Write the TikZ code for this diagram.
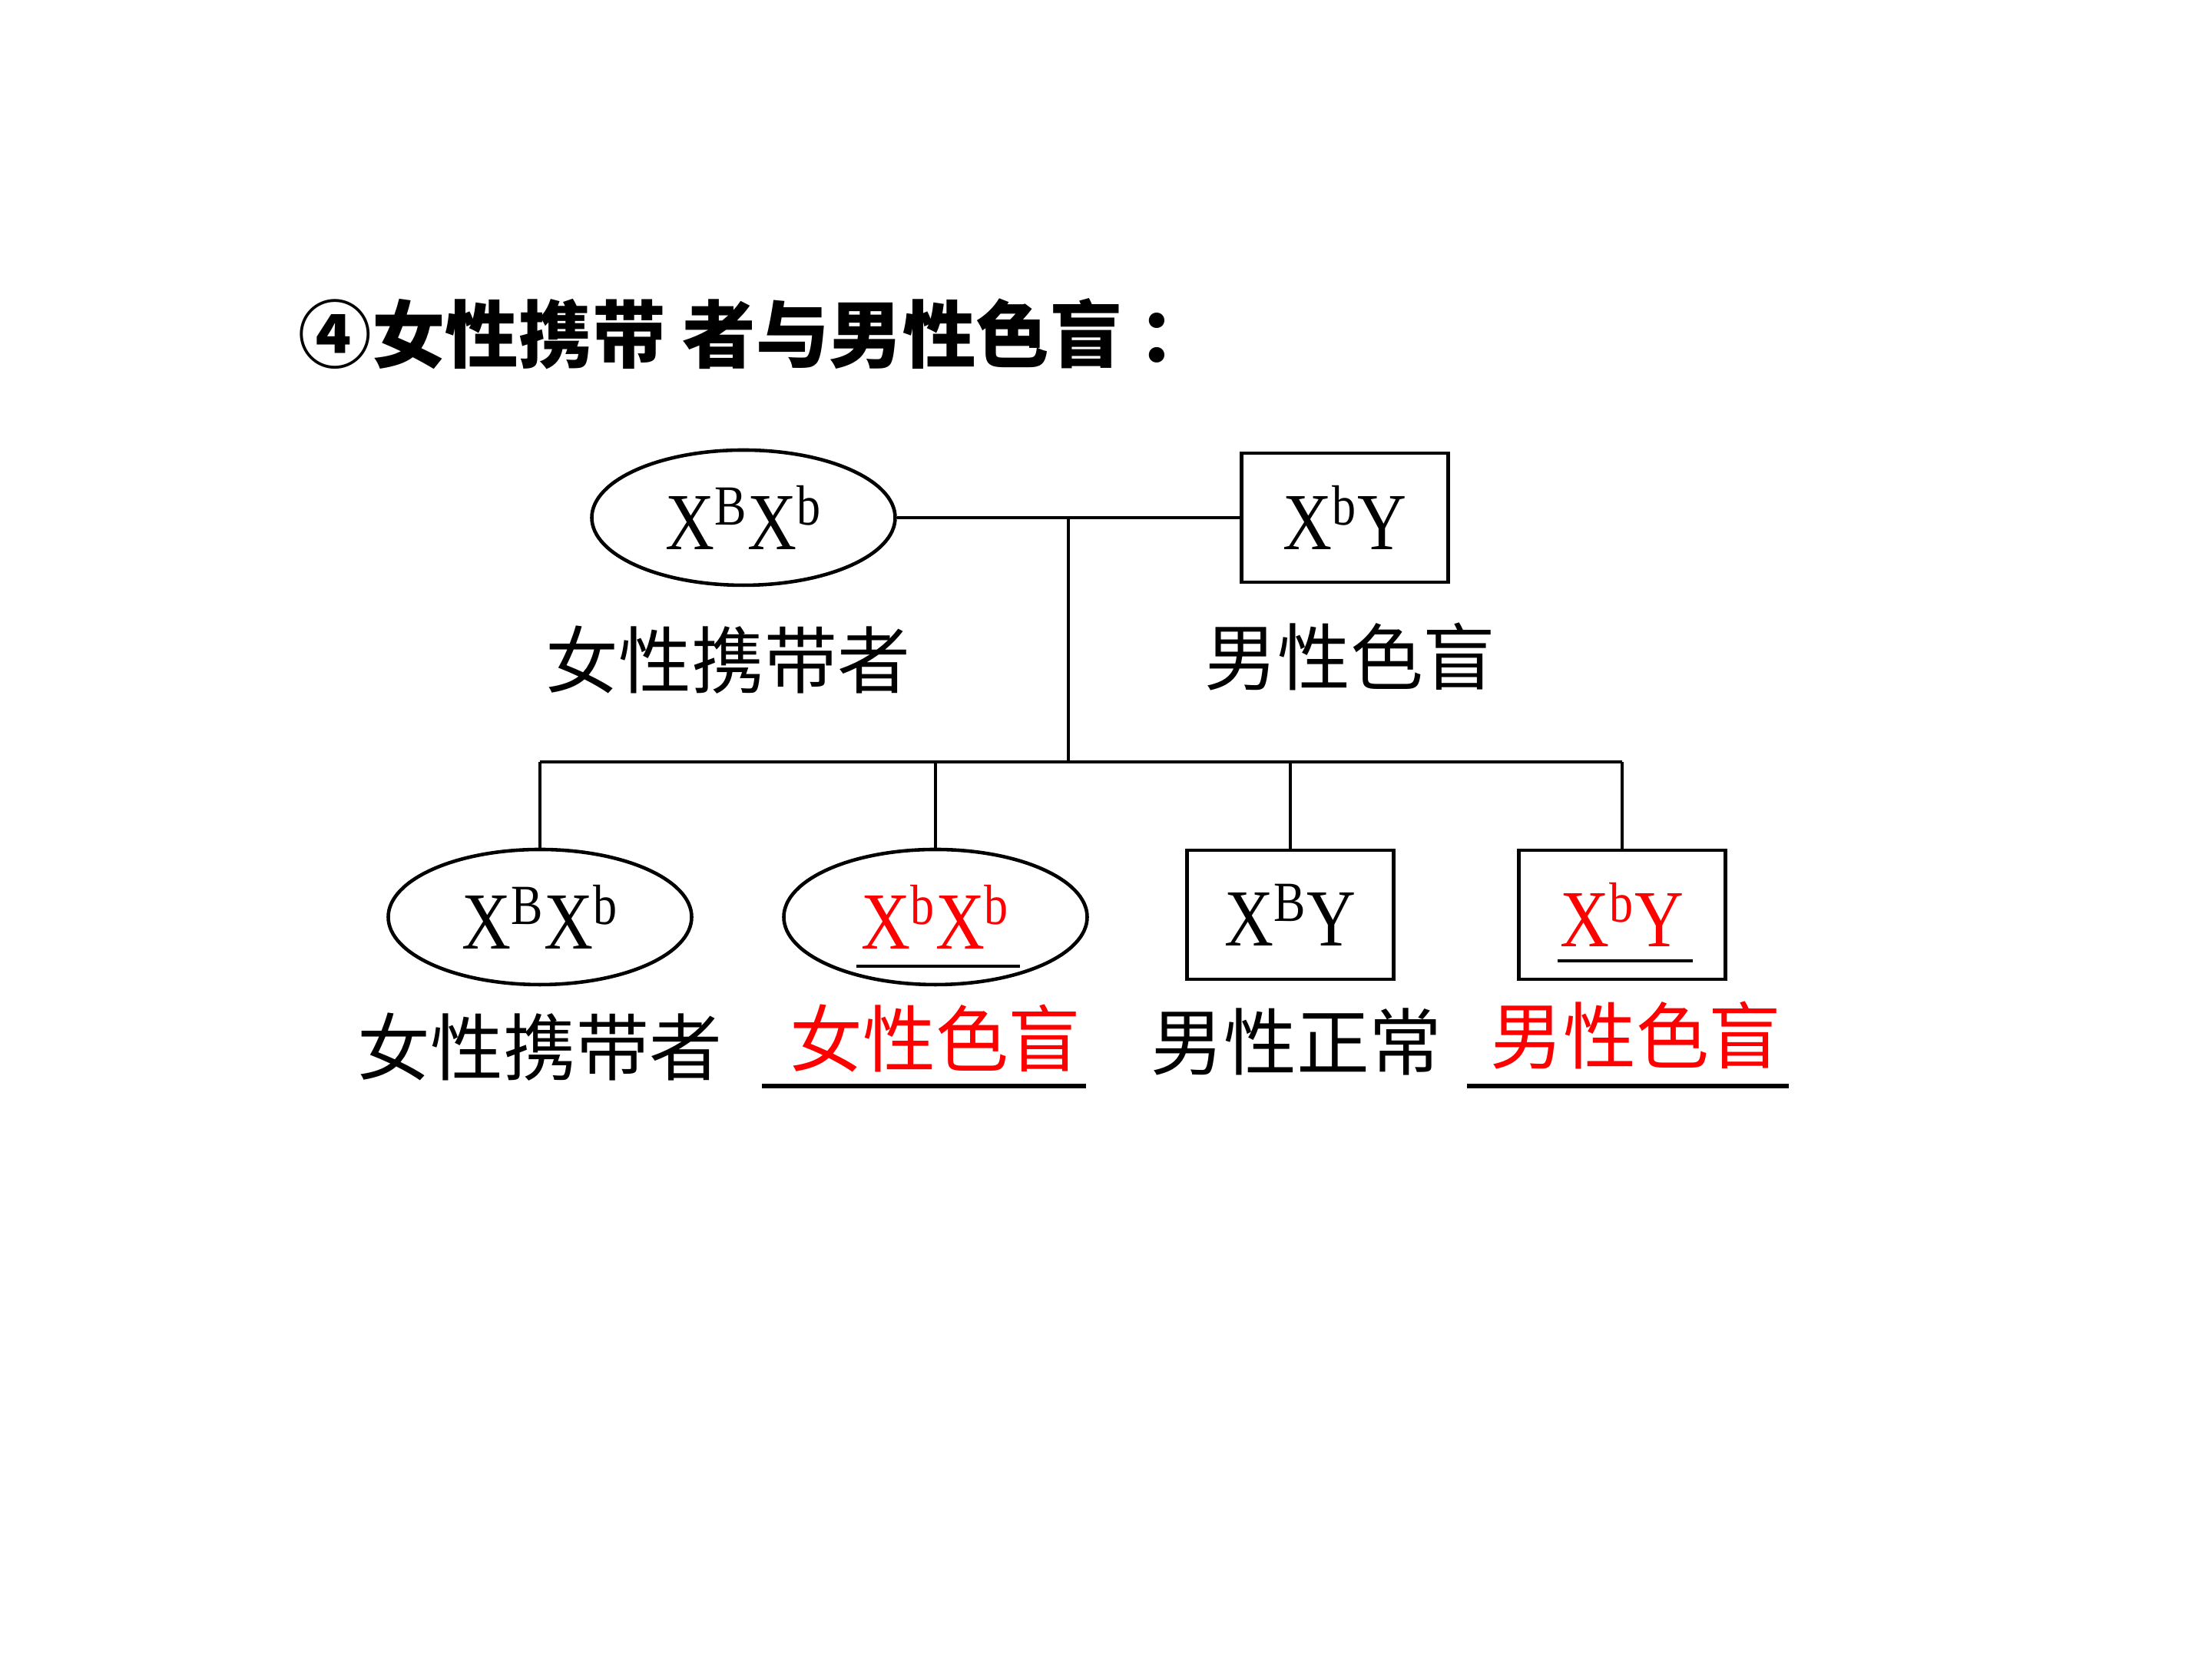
\documentclass[tikz,border=0pt]{standalone}
\usepackage{fontspec}
\setmainfont{Liberation Serif}
\newfontfamily\cjk{Noto Sans CJK SC}
\newfontfamily\geno[FakeStretch=0.84]{Liberation Serif}
\usetikzlibrary{positioning,shapes.geometric,calc}

\begin{document}
\begin{tikzpicture}[
    female/.style={ellipse, draw, line width=1.3pt, minimum width=3.95cm, minimum height=1.76cm, inner sep=0pt, font=\geno\fontsize{30}{30}\selectfont},
    male/.style={rectangle, draw, line width=1.3pt, minimum width=2.69cm, minimum height=1.68cm, inner sep=0pt, font=\geno\fontsize{30}{30}\selectfont},
    lab/.style={inner sep=0pt, font=\cjk\fontsize{27}{27}\selectfont},
    line/.style={line width=1.1pt}
]
    \useasboundingbox (0,0) rectangle (28.8,21.6);

    \node[anchor=west, inner sep=0pt, font=\cjk\bfseries\fontsize{27.2}{27.2}\selectfont] (title) at (3.88,17.25) {④女性携带 者与男性色盲\hspace{0.2cm}：};

    % parents
    \node[female] (mom) at (9.68,14.86) {X\textsuperscript{B}X\textsuperscript{b}};
    \node[male] (dad) at (17.51,14.86) {X\textsuperscript{b}Y};

    \node[lab, below=0.5cm of mom, xshift=-0.2cm] (mom-l) {女性携带者};
    \node[lab, below=0.5cm of dad, xshift=0.07cm] (dad-l) {男性色盲};

    % children
    \node[female] (c1) at (7.03,9.66) {X\textsuperscript{B}X\textsuperscript{b}};
    \node[female, text=red] (c2) at (12.18,9.66) {X\textsuperscript{b}X\textsuperscript{b}};
    \node[male] (c3) at (16.80,9.69) {X\textsuperscript{B}Y};
    \node[male, text=red] (c4) at (21.12,9.69) {X\textsuperscript{b}Y};

    \node[lab, below=0.34cm of c1] (c1-l) {女性携带者};
    \node[lab, below=0.23cm of c2, text=red] (c2-l) {女性色盲};
    \node[lab, below=0.35cm of c3, xshift=0.08cm] (c3-l) {男性正常};
    \node[lab, below=0.26cm of c4, xshift=0.18cm, text=red] (c4-l) {男性色盲};

    \coordinate (m) at ($(mom.east)!0.5!(dad.west)$);
    \coordinate (sib) at (13.89,11.68);

    \draw[line] (mom.east) -- (dad.west);
    \draw[line] (m) -- (m |- sib);
    \draw[line] (c1.north |- sib) -- (c4.north |- sib);
    \foreach \c in {c1,c2,c3,c4}
        \draw[line] (\c.north) -- (\c.north |- sib);

    % underlines
    \draw[line width=1.1pt] (11.15,9.02) -- (13.28,9.02);
    \draw[line width=1.1pt] (20.28,9.09) -- (22.04,9.09);
    \draw[line width=1.5pt] (9.92,7.46) -- (14.14,7.46);
    \draw[line width=1.5pt] (19.10,7.46) -- (23.29,7.46);
\end{tikzpicture}
\end{document}
